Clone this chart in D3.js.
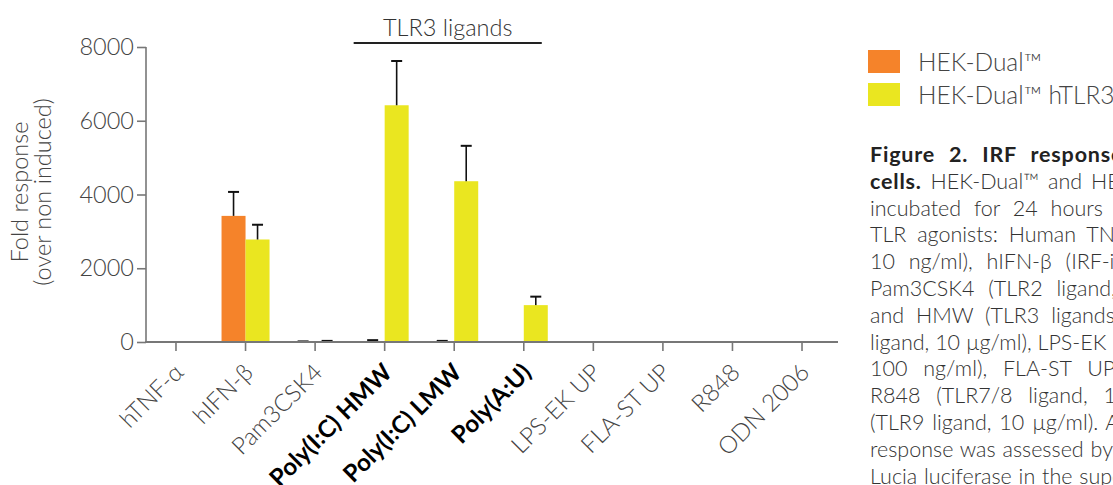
<!DOCTYPE html>
<html>
<head>
<meta charset="utf-8">
<script src="https://cdn.jsdelivr.net/npm/d3@7"></script>
<style>
    body { margin: 0; background: #fff; overflow: hidden; width: 1113px; height: 485px; position: relative; }
    #chart { position: absolute; left: 0; top: 0; }
    .caption { position: absolute; left: 870px; top: 141px; font-family: Lato, sans-serif; font-weight: 300; font-size: 21.5px; color: #333; }
    .caption div { height: 26.8px; line-height: 26.8px; white-space: nowrap; }
    .caption b { font-weight: 700; color: #222; letter-spacing: 0.8px; }
</style>
</head>
<body>
<div id="chart"></div>
<div class="caption" id="caption"></div>
<script>
var categories = ["hTNF-α", "hIFN-β", "Pam3CSK4", "Poly(I:C) HMW", "Poly(I:C) LMW", "Poly(A:U)", "LPS-EK UP", "FLA-ST UP", "R848", "ODN 2006"];
var boldCategories = ["Poly(I:C) HMW", "Poly(I:C) LMW", "Poly(A:U)"];
var seriesNames = ["HEK-Dual™", "HEK-Dual™ hTLR3"];
var hekDual = [0, 3420, 8, 25, 15, 0, 0, 0, 0, 0];
var hekDualErr = [0, 650, 8, 25, 15, 0, 0, 0, 0, 0];
var hekTlr3 = [0, 2780, 15, 6420, 4360, 1000, 0, 0, 0, 0];
var hekTlr3Err = [0, 400, 15, 1200, 960, 230, 0, 0, 0, 0];
var yTicks = [0, 2000, 4000, 6000, 8000];
var bracketLabel = "TLR3 ligands";
var bracketCategories = ["Poly(I:C) HMW", "Poly(A:U)"];
var captionLines = [
    ["Figure 2. IRF response of HEK-Dual™ hTLR3", ""],
    ["cells.", " HEK-Dual™ and HEK-Dual™ hTLR3 cells were"],
    ["", "incubated for 24 hours with the following"],
    ["", "TLR agonists: Human TNF-α (NF-κB inducer,"],
    ["", "10 ng/ml), hIFN-β (IRF-inducer, 10⁴ U/ml),"],
    ["", "Pam3CSK4 (TLR2 ligand, 100 ng/ml), Poly(I:C) LMW"],
    ["", "and HMW (TLR3 ligands, 10 µg/ml), Poly(A:U) (TLR3"],
    ["", "ligand, 10 µg/ml), LPS-EK UP (TLR4 ligand,"],
    ["", "100 ng/ml), FLA-ST UP (TLR5 ligand, 100 ng/ml),"],
    ["", "R848 (TLR7/8 ligand, 10 µg/ml) and ODN 2006"],
    ["", "(TLR9 ligand, 10 µg/ml). After 24h, the IRF"],
    ["", "response was assessed by measuring the levels of"],
    ["", "Lucia luciferase in the supernatant using QUANTI-Luc™."]
];
// extra word spacing of each justified caption line (px)
var captionWordSpacing = [8, 3, 7, 5, 8, 8, 6, 0, 10, 10, 2, 1, 1];

var colors = ["#f5832a", "#eae620"];
var width = 1113, height = 485;
var yAxisX = 146;
var fontSize = "23.5px";

var svg = d3.select("#chart").append("svg")
    .attr("width", width)
    .attr("height", height)
    .style("font-family", "Lato, sans-serif");

var x = d3.scaleBand()
    .domain(categories)
    .range([141.2, 836.8])
    .padding(0);
var barW = 24;

var y = d3.scaleLinear()
    .domain([0, 8000])
    .range([342, 47]);

var data = categories.map((c, i) => ({
    cat: c,
    vals: [
        { s: 0, v: hekDual[i], e: hekDualErr[i] },
        { s: 1, v: hekTlr3[i], e: hekTlr3Err[i] }
    ]
}));

// bars
var groups = svg.append("g")
    .selectAll("g")
    .data(data)
    .join("g")
    .attr("transform", d => translate(x(d.cat) + x.bandwidth() / 2, 0));

groups.selectAll("rect")
    .data(d => d.vals)
    .join("rect")
    .attr("x", d => d.s === 0 ? -barW : 0)
    .attr("y", d => y(d.v))
    .attr("width", barW)
    .attr("height", d => y(0) - y(d.v))
    .attr("fill", d => colors[d.s]);

// error bars
var err = groups.selectAll("g.err")
    .data(d => d.vals.filter(v => v.e > 0))
    .join("g")
    .attr("class", "err")
    .attr("transform", d => translate(d.s === 0 ? -barW / 2 : barW / 2, 0));
err.append("line")
    .attr("x1", 0).attr("x2", 0)
    .attr("y1", d => y(d.v))
    .attr("y2", d => y(d.v + d.e))
    .attr("stroke", "#111")
    .attr("stroke-width", 1.6);
err.append("line")
    .attr("x1", -5.5).attr("x2", 5.5)
    .attr("y1", d => y(d.v + d.e))
    .attr("y2", d => y(d.v + d.e))
    .attr("stroke", "#111")
    .attr("stroke-width", 2);

// y axis
var yAxis = svg.append("g")
    .attr("transform", translate(yAxisX, 0))
    .call(d3.axisLeft(y).tickValues(yTicks).tickSize(9).tickPadding(3).tickFormat(d3.format("d")));
yAxis.select(".domain").attr("stroke", "#777").attr("stroke-width", 1.6).attr("d", "M0," + y(8000) + "V" + y(0));
yAxis.selectAll(".tick line").attr("stroke", "#777").attr("stroke-width", 1.6);
yAxis.selectAll(".tick text")
    .attr("fill", "#444")
    .style("font-size", fontSize)
    .style("font-weight", 300)
    .style("font-family", "Lato, sans-serif");

// x axis
var xAxis = svg.append("g")
    .attr("transform", translate(0, y(0)))
    .call(d3.axisBottom(x).tickSize(9).tickFormat(""));
xAxis.select(".domain").attr("stroke", "#777").attr("stroke-width", 2).attr("d", "M" + (yAxisX - 1) + ",0H838");
xAxis.selectAll(".tick line").attr("stroke", "#777").attr("stroke-width", 1.6);
xAxis.selectAll(".tick")
    .append("text")
    .attr("transform", "translate(3,26) rotate(-45)")
    .attr("text-anchor", "end")
    .attr("dy", "0.35em")
    .attr("fill", d => boldCategories.includes(d) ? "#000" : "#444")
    .style("font-size", "24px")
    .style("font-weight", d => boldCategories.includes(d) ? 700 : 300)
    .style("font-family", "Lato, sans-serif")
    .text(d => d);

// y axis title
var yTitle = svg.append("text")
    .attr("transform", translate(34, 192) + " rotate(-90)")
    .attr("text-anchor", "middle")
    .attr("fill", "#444")
    .style("font-size", fontSize)
    .style("font-weight", 300);
yTitle.append("tspan").attr("x", 0).attr("dy", "-0.25em").text("Fold response");
yTitle.append("tspan").attr("x", 0).attr("dy", "0.98em").text("(over non induced)");

// TLR3 bracket
var bx1 = x(bracketCategories[0]) + x.bandwidth() / 2 - 31;
var bx2 = x(bracketCategories[1]) + x.bandwidth() / 2 + 18;
svg.append("line")
    .attr("x1", bx1).attr("x2", bx2)
    .attr("y1", 43).attr("y2", 43)
    .attr("stroke", "#222")
    .attr("stroke-width", 2);
svg.append("text")
    .attr("x", (bx1 + bx2) / 2)
    .attr("y", 36)
    .attr("text-anchor", "middle")
    .attr("fill", "#333")
    .style("font-size", fontSize)
    .style("font-weight", 300)
    .text(bracketLabel);

// legend
var legend = svg.append("g")
    .attr("transform", translate(868, 50))
    .selectAll("g")
    .data(seriesNames)
    .join("g")
    .attr("transform", (d, i) => translate(0, i * 33));
legend.append("rect")
    .attr("width", 32)
    .attr("height", 23)
    .attr("fill", (d, i) => colors[i]);
legend.append("text")
    .attr("x", 50)
    .attr("y", 12)
    .attr("dy", "0.35em")
    .attr("fill", "#444")
    .style("font-size", "24.5px")
    .style("font-weight", 300)
    .text(d => d);

// caption
var cap = d3.select("#caption")
    .selectAll("div")
    .data(captionLines)
    .join("div")
    .style("word-spacing", (d, i) => captionWordSpacing[i] + "px");
cap.append("b").text(d => d[0]);
cap.append("span").text(d => d[1]);

function translate(x, y) {
    return `translate(${x}, ${y})`;
}
</script>
</body>
</html>
